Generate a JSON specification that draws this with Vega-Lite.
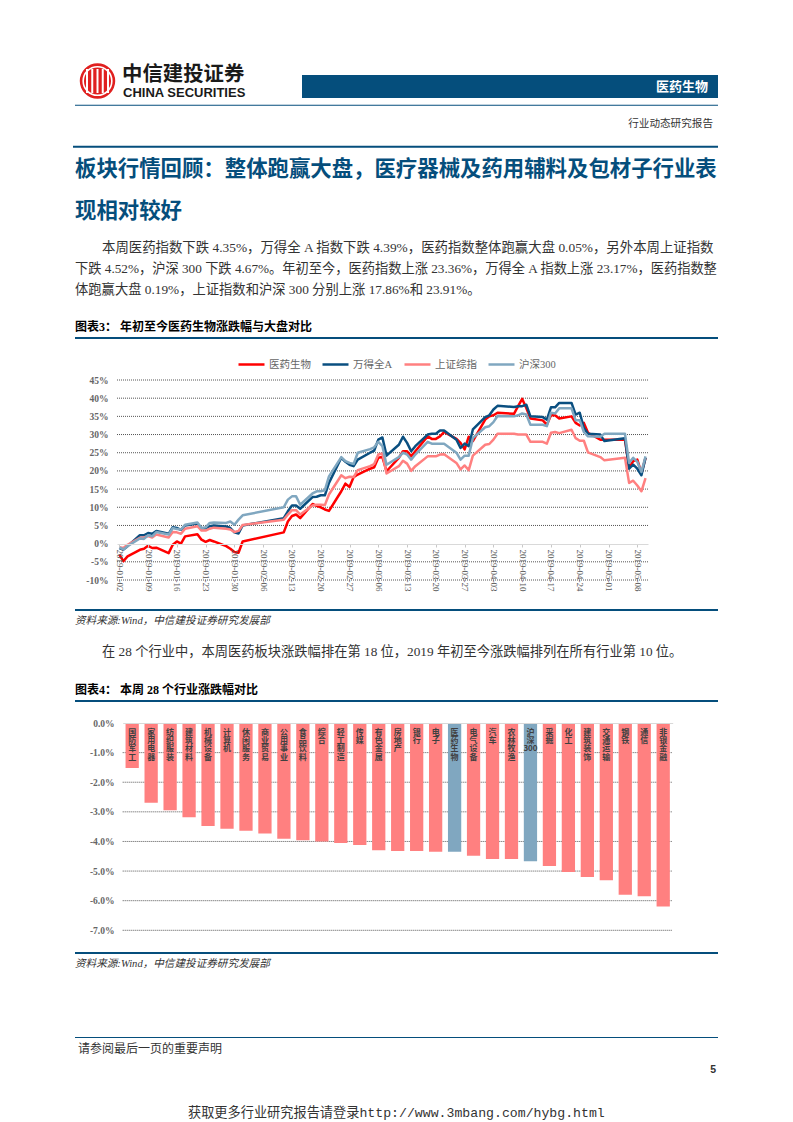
{"$schema":"https://vega.github.io/schema/vega-lite/v6.json","padding":0,"spacing":0,"bounds":"flush","background":"white","config":{"view":{"stroke":null},"axis":{"labelFont":"Liberation Serif"}},"vconcat":[
{"width":793,"height":380,"layer":[
{"data":{"values":[{"n":"logo"}]},"mark":{"type":"point","filled":true,"size":1257,"color":"#E0201F","opacity":1},"encoding":{"x":{"value":97.5},"y":{"value":81}}},
{"data":{"values":[{"n":"logo"}]},"mark":{"type":"point","filled":false,"size":820,"color":"#ffffff","strokeWidth":1.6,"opacity":1},"encoding":{"x":{"value":97.5},"y":{"value":81}}},
{"data":{"values":[{"b":0},{"b":1},{"b":2},{"b":3},{"b":4}]},"mark":{"type":"rule","color":"#ffffff","strokeWidth":2},"encoding":{"x":{"field":"b","type":"quantitative","axis":null,"scale":{"domain":[0,4],"range":[87,108]}},"y":{"value":69},"y2":{"value":93}}},
{"data":{"values":[{"t":"中信建投证券"}]},"mark":{"type":"text","align":"left","baseline":"middle","font":"Noto Sans CJK SC","fontWeight":"bold","fontSize":20.4,"color":"#1a1a1a"},"encoding":{"x":{"value":122},"y":{"value":75},"text":{"field":"t"}}},
{"data":{"values":[{"t":"CHINA SECURITIES"}]},"mark":{"type":"text","align":"left","baseline":"middle","font":"Liberation Sans","fontWeight":"bold","fontSize":13,"color":"#1a1a1a"},"encoding":{"x":{"value":123},"y":{"value":93},"text":{"field":"t"}}},
{"data":{"values":[{"n":"bar"}]},"mark":{"type":"rect","color":"#054E7C"},"encoding":{"x":{"value":302},"x2":{"value":718},"y":{"value":75},"y2":{"value":98}}},
{"data":{"values":[{"t":"医药生物"}]},"mark":{"type":"text","align":"right","baseline":"middle","font":"Noto Sans CJK SC","fontWeight":"bold","fontSize":13,"color":"#ffffff"},"encoding":{"x":{"value":708},"y":{"value":87},"text":{"field":"t"}}},
{"data":{"values":[{"n":"line"}]},"mark":{"type":"rect","color":"#054E7C"},"encoding":{"x":{"value":75},"x2":{"value":718},"y":{"value":104.7},"y2":{"value":105.7}}},
{"data":{"values":[{"t":"行业动态研究报告"}]},"mark":{"type":"text","align":"right","baseline":"middle","font":"Noto Sans CJK SC","fontSize":10.6,"color":"#333333"},"encoding":{"x":{"value":713},"y":{"value":124},"text":{"field":"t"}}},
{"data":{"values":[{"n":"line"}]},"mark":{"type":"rect","color":"#054E7C"},"encoding":{"x":{"value":73},"x2":{"value":718},"y":{"value":145.7},"y2":{"value":147.7}}},
{"data":{"values":[{"t":"板块行情回顾：整体跑赢大盘，医疗器械及药用辅料及包材子行业表"}]},"mark":{"type":"text","align":"left","baseline":"middle","font":"Noto Sans CJK SC","fontWeight":"bold","fontSize":21.4,"color":"#054E7C"},"encoding":{"x":{"value":75},"y":{"value":170},"text":{"field":"t"}}},
{"data":{"values":[{"t":"现相对较好"}]},"mark":{"type":"text","align":"left","baseline":"middle","font":"Noto Sans CJK SC","fontWeight":"bold","fontSize":21.4,"color":"#054E7C"},"encoding":{"x":{"value":75},"y":{"value":212},"text":{"field":"t"}}},
{"data":{"values":[{"t":"本周医药指数下跌 4.35%，万得全 A 指数下跌 4.39%，医药指数整体跑赢大盘 0.05%，另外本周上证指数"}]},"mark":{"type":"text","align":"left","baseline":"middle","font":"Liberation Serif, Noto Sans CJK SC","fontSize":13.4,"color":"#333333"},"encoding":{"x":{"value":102},"y":{"value":248},"text":{"field":"t"}}},
{"data":{"values":[{"t":"下跌 4.52%，沪深 300 下跌 4.67%。年初至今，医药指数上涨 23.36%，万得全 A 指数上涨 23.17%，医药指数整"}]},"mark":{"type":"text","align":"left","baseline":"middle","font":"Liberation Serif, Noto Sans CJK SC","fontSize":13.24,"color":"#333333"},"encoding":{"x":{"value":75},"y":{"value":269},"text":{"field":"t"}}},
{"data":{"values":[{"t":"体跑赢大盘 0.19%，上证指数和沪深 300 分别上涨 17.86%和 23.91%。"}]},"mark":{"type":"text","align":"left","baseline":"middle","font":"Liberation Serif, Noto Sans CJK SC","fontSize":13.3,"color":"#333333"},"encoding":{"x":{"value":75},"y":{"value":290},"text":{"field":"t"}}},
{"data":{"values":[{"t":"图表3：  年初至今医药生物涨跌幅与大盘对比"}]},"mark":{"type":"text","align":"left","baseline":"middle","font":"Liberation Serif, Noto Sans CJK SC","fontWeight":"bold","fontSize":12,"color":"#000000"},"encoding":{"x":{"value":75},"y":{"value":327},"text":{"field":"t"}}},
{"data":{"values":[{"n":"line"}]},"mark":{"type":"rect","color":"#054E7C"},"encoding":{"x":{"value":75},"x2":{"value":718},"y":{"value":337},"y2":{"value":339}}}
]},
{"width":793,"height":200,"resolve":{"scale":{"x":"independent"}},"layer":[
{"data":{"values":[{"g":45},{"g":40},{"g":35},{"g":30},{"g":25},{"g":20},{"g":15},{"g":10},{"g":5},{"g":-5},{"g":-10}]},"mark":{"type":"rule","color":"#555555","strokeWidth":1,"strokeDash":[1,1]},"encoding":{"x":{"datum":0,"type":"quantitative","axis":null,"scale":{"domain":[0,1],"range":[117,648]}},"x2":{"datum":1},"y":{"field":"g","type":"quantitative","title":null,"scale":{"domain":[-10,45],"nice":false},"axis":{"orient":"left","offset":-108,"domain":false,"ticks":false,"grid":false,"labelPadding":0,"labelOverlap":false,"labelFlush":false,"values":[45,40,35,30,25,20,15,10,5,0,-5,-10],"labelExpr":"datum.value+'%'","labelFont":"Liberation Serif","labelFontWeight":"bold","labelFontSize":9.5,"labelColor":"#666666"}}}},
{"data":{"values":[
{"d":"2019-01-02","s":"医药生物","v":-3},{"d":"2019-01-03","s":"医药生物","v":-4.8},{"d":"2019-01-04","s":"医药生物","v":-3.5},{"d":"2019-01-07","s":"医药生物","v":-1.7},{"d":"2019-01-08","s":"医药生物","v":-1.4},{"d":"2019-01-09","s":"医药生物","v":-0.6},{"d":"2019-01-10","s":"医药生物","v":-1.2},{"d":"2019-01-11","s":"医药生物","v":-1.1},{"d":"2019-01-14","s":"医药生物","v":-2.6},{"d":"2019-01-15","s":"医药生物","v":-0.3},{"d":"2019-01-16","s":"医药生物","v":0.6},{"d":"2019-01-17","s":"医药生物","v":0},{"d":"2019-01-18","s":"医药生物","v":2},{"d":"2019-01-21","s":"医药生物","v":2.6},{"d":"2019-01-22","s":"医药生物","v":1.1},{"d":"2019-01-23","s":"医药生物","v":0.5},{"d":"2019-01-24","s":"医药生物","v":1},{"d":"2019-01-25","s":"医药生物","v":0.6},{"d":"2019-01-28","s":"医药生物","v":-0.7},{"d":"2019-01-29","s":"医药生物","v":-1.4},{"d":"2019-01-30","s":"医药生物","v":-2.3},{"d":"2019-01-31","s":"医药生物","v":-2.5},{"d":"2019-02-01","s":"医药生物","v":0.6},{"d":"2019-02-11","s":"医药生物","v":3.1},{"d":"2019-02-12","s":"医药生物","v":6.1},{"d":"2019-02-13","s":"医药生物","v":7.6},{"d":"2019-02-14","s":"医药生物","v":8},{"d":"2019-02-15","s":"医药生物","v":7},{"d":"2019-02-18","s":"医药生物","v":10.9},{"d":"2019-02-19","s":"医药生物","v":10.4},{"d":"2019-02-20","s":"医药生物","v":10},{"d":"2019-02-21","s":"医药生物","v":9.4},{"d":"2019-02-22","s":"医药生物","v":9},{"d":"2019-02-25","s":"医药生物","v":14.4},{"d":"2019-02-26","s":"医药生物","v":16.5},{"d":"2019-02-27","s":"医药生物","v":15.6},{"d":"2019-02-28","s":"医药生物","v":18.3},{"d":"2019-03-01","s":"医药生物","v":19},{"d":"2019-03-04","s":"医药生物","v":20.6},{"d":"2019-03-05","s":"医药生物","v":21},{"d":"2019-03-06","s":"医药生物","v":23.6},{"d":"2019-03-07","s":"医药生物","v":23.8},{"d":"2019-03-08","s":"医药生物","v":19.9},{"d":"2019-03-11","s":"医药生物","v":23.6},{"d":"2019-03-12","s":"医药生物","v":25.4},{"d":"2019-03-13","s":"医药生物","v":25.4},{"d":"2019-03-14","s":"医药生物","v":24},{"d":"2019-03-15","s":"医药生物","v":25.4},{"d":"2019-03-18","s":"医药生物","v":29.5},{"d":"2019-03-19","s":"医药生物","v":28.8},{"d":"2019-03-20","s":"医药生物","v":28.8},{"d":"2019-03-21","s":"医药生物","v":29.5},{"d":"2019-03-22","s":"医药生物","v":30.7},{"d":"2019-03-25","s":"医药生物","v":28.8},{"d":"2019-03-26","s":"医药生物","v":27.7},{"d":"2019-03-27","s":"医药生物","v":25.9},{"d":"2019-03-28","s":"医药生物","v":29.4},{"d":"2019-03-29","s":"医药生物","v":28.2},{"d":"2019-04-01","s":"医药生物","v":34.1},{"d":"2019-04-02","s":"医药生物","v":35},{"d":"2019-04-03","s":"医药生物","v":35.3},{"d":"2019-04-04","s":"医药生物","v":36},{"d":"2019-04-08","s":"医药生物","v":35.7},{"d":"2019-04-09","s":"医药生物","v":37.8},{"d":"2019-04-10","s":"医药生物","v":39.8},{"d":"2019-04-11","s":"医药生物","v":37.3},{"d":"2019-04-12","s":"医药生物","v":34.4},{"d":"2019-04-15","s":"医药生物","v":33.9},{"d":"2019-04-16","s":"医药生物","v":32.7},{"d":"2019-04-17","s":"医药生物","v":35.3},{"d":"2019-04-18","s":"医药生物","v":35.3},{"d":"2019-04-19","s":"医药生物","v":34.4},{"d":"2019-04-22","s":"医药生物","v":35},{"d":"2019-04-23","s":"医药生物","v":33.2},{"d":"2019-04-24","s":"医药生物","v":32.5},{"d":"2019-04-25","s":"医药生物","v":33.2},{"d":"2019-04-26","s":"医药生物","v":30.5},{"d":"2019-04-29","s":"医药生物","v":28.6},{"d":"2019-04-30","s":"医药生物","v":28.6},{"d":"2019-05-05","s":"医药生物","v":28.6},{"d":"2019-05-06","s":"医药生物","v":20.8},{"d":"2019-05-07","s":"医药生物","v":22.7},{"d":"2019-05-08","s":"医药生物","v":23.1},{"d":"2019-05-09","s":"医药生物","v":19.4},{"d":"2019-05-10","s":"医药生物","v":23.6},
{"d":"2019-01-02","s":"万得全A","v":-1.2},{"d":"2019-01-03","s":"万得全A","v":-1.6},{"d":"2019-01-04","s":"万得全A","v":-0.7},{"d":"2019-01-07","s":"万得全A","v":2.3},{"d":"2019-01-08","s":"万得全A","v":2.3},{"d":"2019-01-09","s":"万得全A","v":2.9},{"d":"2019-01-10","s":"万得全A","v":2.7},{"d":"2019-01-11","s":"万得全A","v":3.5},{"d":"2019-01-14","s":"万得全A","v":2.7},{"d":"2019-01-15","s":"万得全A","v":4.5},{"d":"2019-01-16","s":"万得全A","v":4.3},{"d":"2019-01-17","s":"万得全A","v":3.8},{"d":"2019-01-18","s":"万得全A","v":5},{"d":"2019-01-21","s":"万得全A","v":5.5},{"d":"2019-01-22","s":"万得全A","v":4.2},{"d":"2019-01-23","s":"万得全A","v":4.2},{"d":"2019-01-24","s":"万得全A","v":4.8},{"d":"2019-01-25","s":"万得全A","v":5},{"d":"2019-01-28","s":"万得全A","v":4.7},{"d":"2019-01-29","s":"万得全A","v":4.3},{"d":"2019-01-30","s":"万得全A","v":3.1},{"d":"2019-01-31","s":"万得全A","v":2.8},{"d":"2019-02-01","s":"万得全A","v":5},{"d":"2019-02-11","s":"万得全A","v":7},{"d":"2019-02-12","s":"万得全A","v":8.9},{"d":"2019-02-13","s":"万得全A","v":10.5},{"d":"2019-02-14","s":"万得全A","v":10.5},{"d":"2019-02-15","s":"万得全A","v":9.6},{"d":"2019-02-18","s":"万得全A","v":12.8},{"d":"2019-02-19","s":"万得全A","v":12.9},{"d":"2019-02-20","s":"万得全A","v":13.3},{"d":"2019-02-21","s":"万得全A","v":13.3},{"d":"2019-02-22","s":"万得全A","v":16.7},{"d":"2019-02-25","s":"万得全A","v":23.6},{"d":"2019-02-26","s":"万得全A","v":22.5},{"d":"2019-02-27","s":"万得全A","v":21.7},{"d":"2019-02-28","s":"万得全A","v":21.3},{"d":"2019-03-01","s":"万得全A","v":23.1},{"d":"2019-03-04","s":"万得全A","v":25},{"d":"2019-03-05","s":"万得全A","v":25.6},{"d":"2019-03-06","s":"万得全A","v":28.6},{"d":"2019-03-07","s":"万得全A","v":29.2},{"d":"2019-03-08","s":"万得全A","v":24.2},{"d":"2019-03-11","s":"万得全A","v":27.2},{"d":"2019-03-12","s":"万得全A","v":29.4},{"d":"2019-03-13","s":"万得全A","v":27.7},{"d":"2019-03-14","s":"万得全A","v":25.4},{"d":"2019-03-15","s":"万得全A","v":26.8},{"d":"2019-03-18","s":"万得全A","v":30},{"d":"2019-03-19","s":"万得全A","v":30.2},{"d":"2019-03-20","s":"万得全A","v":30.2},{"d":"2019-03-21","s":"万得全A","v":31.1},{"d":"2019-03-22","s":"万得全A","v":31.1},{"d":"2019-03-25","s":"万得全A","v":28.6},{"d":"2019-03-26","s":"万得全A","v":26.3},{"d":"2019-03-27","s":"万得全A","v":27.5},{"d":"2019-03-28","s":"万得全A","v":26.8},{"d":"2019-03-29","s":"万得全A","v":31.4},{"d":"2019-04-01","s":"万得全A","v":34.8},{"d":"2019-04-02","s":"万得全A","v":35.3},{"d":"2019-04-03","s":"万得全A","v":36.9},{"d":"2019-04-04","s":"万得全A","v":37.9},{"d":"2019-04-08","s":"万得全A","v":37.6},{"d":"2019-04-09","s":"万得全A","v":37.8},{"d":"2019-04-10","s":"万得全A","v":37.8},{"d":"2019-04-11","s":"万得全A","v":38.2},{"d":"2019-04-12","s":"万得全A","v":35},{"d":"2019-04-15","s":"万得全A","v":34.8},{"d":"2019-04-16","s":"万得全A","v":34.1},{"d":"2019-04-17","s":"万得全A","v":37.5},{"d":"2019-04-18","s":"万得全A","v":37.5},{"d":"2019-04-19","s":"万得全A","v":38.7},{"d":"2019-04-22","s":"万得全A","v":38.7},{"d":"2019-04-23","s":"万得全A","v":35.5},{"d":"2019-04-24","s":"万得全A","v":36},{"d":"2019-04-25","s":"万得全A","v":31.8},{"d":"2019-04-26","s":"万得全A","v":30.2},{"d":"2019-04-29","s":"万得全A","v":30},{"d":"2019-04-30","s":"万得全A","v":28.2},{"d":"2019-05-05","s":"万得全A","v":29},{"d":"2019-05-06","s":"万得全A","v":20.6},{"d":"2019-05-07","s":"万得全A","v":21.7},{"d":"2019-05-08","s":"万得全A","v":20.6},{"d":"2019-05-09","s":"万得全A","v":18.8},{"d":"2019-05-10","s":"万得全A","v":23.6},
{"d":"2019-01-02","s":"上证综指","v":-1},{"d":"2019-01-03","s":"上证综指","v":-1.2},{"d":"2019-01-04","s":"上证综指","v":-0.3},{"d":"2019-01-07","s":"上证综指","v":1.6},{"d":"2019-01-08","s":"上证综指","v":1.7},{"d":"2019-01-09","s":"上证综指","v":2.1},{"d":"2019-01-10","s":"上证综指","v":1.7},{"d":"2019-01-11","s":"上证综指","v":2.5},{"d":"2019-01-14","s":"上证综指","v":1.7},{"d":"2019-01-15","s":"上证综指","v":3.2},{"d":"2019-01-16","s":"上证综指","v":3.1},{"d":"2019-01-17","s":"上证综指","v":2.7},{"d":"2019-01-18","s":"上证综指","v":4.1},{"d":"2019-01-21","s":"上证综指","v":4.8},{"d":"2019-01-22","s":"上证综指","v":3.6},{"d":"2019-01-23","s":"上证综指","v":3.6},{"d":"2019-01-24","s":"上证综指","v":4.1},{"d":"2019-01-25","s":"上证综指","v":4.4},{"d":"2019-01-28","s":"上证综指","v":4.1},{"d":"2019-01-29","s":"上证综指","v":3.9},{"d":"2019-01-30","s":"上证综指","v":3.2},{"d":"2019-01-31","s":"上证综指","v":3.5},{"d":"2019-02-01","s":"上证综指","v":5.1},{"d":"2019-02-11","s":"上证综指","v":6.6},{"d":"2019-02-12","s":"上证综指","v":8},{"d":"2019-02-13","s":"上证综指","v":9.2},{"d":"2019-02-14","s":"上证综指","v":9.2},{"d":"2019-02-15","s":"上证综指","v":8},{"d":"2019-02-18","s":"上证综指","v":10.5},{"d":"2019-02-19","s":"上证综指","v":10.7},{"d":"2019-02-20","s":"上证综指","v":10.7},{"d":"2019-02-21","s":"上证综指","v":10.6},{"d":"2019-02-22","s":"上证综指","v":13.5},{"d":"2019-02-25","s":"上证综指","v":18.8},{"d":"2019-02-26","s":"上证综指","v":18},{"d":"2019-02-27","s":"上证综指","v":18.4},{"d":"2019-02-28","s":"上证综指","v":18.3},{"d":"2019-03-01","s":"上证综指","v":20.2},{"d":"2019-03-04","s":"上证综指","v":21.3},{"d":"2019-03-05","s":"上证综指","v":21.9},{"d":"2019-03-06","s":"上证综指","v":24.5},{"d":"2019-03-07","s":"上证综指","v":24.8},{"d":"2019-03-08","s":"上证综指","v":19.3},{"d":"2019-03-11","s":"上证综指","v":21.3},{"d":"2019-03-12","s":"上证综指","v":22.8},{"d":"2019-03-13","s":"上证综指","v":22},{"d":"2019-03-14","s":"上证综指","v":20},{"d":"2019-03-15","s":"上证综指","v":21.3},{"d":"2019-03-18","s":"上证综指","v":24},{"d":"2019-03-19","s":"上证综指","v":24},{"d":"2019-03-20","s":"上证综指","v":24},{"d":"2019-03-21","s":"上证综指","v":24.5},{"d":"2019-03-22","s":"上证综指","v":24.6},{"d":"2019-03-25","s":"上证综指","v":22.2},{"d":"2019-03-26","s":"上证综指","v":20.4},{"d":"2019-03-27","s":"上证综指","v":21.5},{"d":"2019-03-28","s":"上证综指","v":20.2},{"d":"2019-03-29","s":"上证综指","v":24.2},{"d":"2019-04-01","s":"上证综指","v":27.2},{"d":"2019-04-02","s":"上证综指","v":27.4},{"d":"2019-04-03","s":"上证综指","v":28.6},{"d":"2019-04-04","s":"上证综指","v":30.2},{"d":"2019-04-08","s":"上证综指","v":30.2},{"d":"2019-04-09","s":"上证综指","v":30},{"d":"2019-04-10","s":"上证综指","v":30},{"d":"2019-04-11","s":"上证综指","v":30},{"d":"2019-04-12","s":"上证综指","v":28},{"d":"2019-04-15","s":"上证综指","v":28},{"d":"2019-04-16","s":"上证综指","v":27.5},{"d":"2019-04-17","s":"上证综指","v":30.5},{"d":"2019-04-18","s":"上证综指","v":30.7},{"d":"2019-04-19","s":"上证综指","v":30.4},{"d":"2019-04-22","s":"上证综指","v":31.3},{"d":"2019-04-23","s":"上证综指","v":29},{"d":"2019-04-24","s":"上证综指","v":28.3},{"d":"2019-04-25","s":"上证综指","v":28.3},{"d":"2019-04-26","s":"上证综指","v":25.1},{"d":"2019-04-29","s":"上证综指","v":23.8},{"d":"2019-04-30","s":"上证综指","v":22.9},{"d":"2019-05-05","s":"上证综指","v":23.6},{"d":"2019-05-06","s":"上证综指","v":16.7},{"d":"2019-05-07","s":"上证综指","v":17.3},{"d":"2019-05-08","s":"上证综指","v":16},{"d":"2019-05-09","s":"上证综指","v":14.4},{"d":"2019-05-10","s":"上证综指","v":18},
{"d":"2019-01-02","s":"沪深300","v":-1},{"d":"2019-01-03","s":"沪深300","v":-1.6},{"d":"2019-01-04","s":"沪深300","v":-0.7},{"d":"2019-01-07","s":"沪深300","v":1.4},{"d":"2019-01-08","s":"沪深300","v":1.3},{"d":"2019-01-09","s":"沪深300","v":2.3},{"d":"2019-01-10","s":"沪深300","v":2},{"d":"2019-01-11","s":"沪深300","v":3.2},{"d":"2019-01-14","s":"沪深300","v":2.5},{"d":"2019-01-15","s":"沪深300","v":4.3},{"d":"2019-01-16","s":"沪深300","v":4},{"d":"2019-01-17","s":"沪深300","v":3.9},{"d":"2019-01-18","s":"沪深300","v":5.2},{"d":"2019-01-21","s":"沪深300","v":5.8},{"d":"2019-01-22","s":"沪深300","v":4.3},{"d":"2019-01-23","s":"沪深300","v":4.5},{"d":"2019-01-24","s":"沪深300","v":5.7},{"d":"2019-01-25","s":"沪深300","v":5.8},{"d":"2019-01-28","s":"沪深300","v":5.7},{"d":"2019-01-29","s":"沪深300","v":6.1},{"d":"2019-01-30","s":"沪深300","v":5.2},{"d":"2019-01-31","s":"沪深300","v":6.6},{"d":"2019-02-01","s":"沪深300","v":7.8},{"d":"2019-02-11","s":"沪深300","v":10},{"d":"2019-02-12","s":"沪深300","v":12.1},{"d":"2019-02-13","s":"沪深300","v":13},{"d":"2019-02-14","s":"沪深300","v":13},{"d":"2019-02-15","s":"沪深300","v":10.7},{"d":"2019-02-18","s":"沪深300","v":13.8},{"d":"2019-02-19","s":"沪深300","v":14.4},{"d":"2019-02-20","s":"沪深300","v":14.4},{"d":"2019-02-21","s":"沪深300","v":14.7},{"d":"2019-02-22","s":"沪深300","v":18.5},{"d":"2019-02-25","s":"沪深300","v":23.8},{"d":"2019-02-26","s":"沪深300","v":22.7},{"d":"2019-02-27","s":"沪深300","v":22.2},{"d":"2019-02-28","s":"沪深300","v":21.9},{"d":"2019-03-01","s":"沪深300","v":25},{"d":"2019-03-04","s":"沪深300","v":26},{"d":"2019-03-05","s":"沪深300","v":26.5},{"d":"2019-03-06","s":"沪深300","v":28},{"d":"2019-03-07","s":"沪深300","v":26.8},{"d":"2019-03-08","s":"沪深300","v":21.7},{"d":"2019-03-11","s":"沪深300","v":23.8},{"d":"2019-03-12","s":"沪深300","v":25},{"d":"2019-03-13","s":"沪深300","v":24.5},{"d":"2019-03-14","s":"沪深300","v":23.1},{"d":"2019-03-15","s":"沪深300","v":24.5},{"d":"2019-03-18","s":"沪深300","v":28},{"d":"2019-03-19","s":"沪深300","v":27.5},{"d":"2019-03-20","s":"沪深300","v":27.5},{"d":"2019-03-21","s":"沪深300","v":27.5},{"d":"2019-03-22","s":"沪深300","v":27.5},{"d":"2019-03-25","s":"沪深300","v":25},{"d":"2019-03-26","s":"沪深300","v":23.1},{"d":"2019-03-27","s":"沪深300","v":24.2},{"d":"2019-03-28","s":"沪深300","v":24.2},{"d":"2019-03-29","s":"沪深300","v":29},{"d":"2019-04-01","s":"沪深300","v":32},{"d":"2019-04-02","s":"沪深300","v":32.3},{"d":"2019-04-03","s":"沪深300","v":33.4},{"d":"2019-04-04","s":"沪深300","v":35.1},{"d":"2019-04-08","s":"沪深300","v":35},{"d":"2019-04-09","s":"沪深300","v":35.3},{"d":"2019-04-10","s":"沪深300","v":35.8},{"d":"2019-04-11","s":"沪深300","v":35.5},{"d":"2019-04-12","s":"沪深300","v":32.7},{"d":"2019-04-15","s":"沪深300","v":32.7},{"d":"2019-04-16","s":"沪深300","v":32.3},{"d":"2019-04-17","s":"沪深300","v":36},{"d":"2019-04-18","s":"沪深300","v":35.8},{"d":"2019-04-19","s":"沪深300","v":37.2},{"d":"2019-04-22","s":"沪深300","v":37.2},{"d":"2019-04-23","s":"沪深300","v":33.9},{"d":"2019-04-24","s":"沪深300","v":33.9},{"d":"2019-04-25","s":"沪深300","v":30.7},{"d":"2019-04-26","s":"沪深300","v":29.5},{"d":"2019-04-29","s":"沪深300","v":29.4},{"d":"2019-04-30","s":"沪深300","v":30.2},{"d":"2019-05-05","s":"沪深300","v":30.2},{"d":"2019-05-06","s":"沪深300","v":22.2},{"d":"2019-05-07","s":"沪深300","v":23.6},{"d":"2019-05-08","s":"沪深300","v":22.5},{"d":"2019-05-09","s":"沪深300","v":19.7},{"d":"2019-05-10","s":"沪深300","v":24}
]},"mark":{"type":"line","strokeWidth":2.5,"strokeJoin":"round"},"encoding":{"x":{"field":"d","type":"temporal","title":null,"scale":{"type":"utc","domain":["2019-01-01T10:33:00Z","2019-05-10T14:24:00Z"],"range":[117,648]},"axis":{"orient":"bottom","offset":-36,"zindex":1,"grid":false,"values":["2019-01-02","2019-01-09","2019-01-16","2019-01-23","2019-01-30","2019-02-06","2019-02-13","2019-02-20","2019-02-27","2019-03-06","2019-03-13","2019-03-20","2019-03-27","2019-04-03","2019-04-10","2019-04-17","2019-04-24","2019-05-01","2019-05-08"],"labelExpr":"utcFormat(datum.value,'%Y-%m-%d')","labelAngle":90,"labelAlign":"left","labelBaseline":"middle","labelFont":"Liberation Serif","labelFontSize":9,"labelColor":"#555555","labelPadding":2,"labelOverlap":false,"labelFlush":false,"domainColor":"#d9d9d9","domainWidth":1,"tickColor":"#c8c8c8","tickSize":3}},"y":{"field":"v","type":"quantitative","title":null,"axis":{"orient":"left","offset":-108,"domain":false,"ticks":false,"grid":false,"labelPadding":0,"labelOverlap":false,"labelFlush":false,"values":[45,40,35,30,25,20,15,10,5,0,-5,-10],"labelExpr":"datum.value+'%'","labelFont":"Liberation Serif","labelFontWeight":"bold","labelFontSize":9.5,"labelColor":"#666666"}},"color":{"field":"s","type":"nominal","sort":null,"scale":{"domain":["医药生物","万得全A","上证综指","沪深300"],"range":["#FF0000","#0A4F80","#FF8080","#80A7C0"]},"legend":{"orient":"none","legendX":237,"legendY":350,"direction":"horizontal","columns":4,"title":null,"symbolType":"stroke","symbolSize":676,"symbolStrokeWidth":2.5,"labelFont":"Liberation Serif, Noto Sans CJK SC","labelFontSize":10.5,"labelColor":"#666666","labelOffset":3,"columnPadding":6}}}}
]},
{"width":793,"height":142.7,"layer":[
{"data":{"values":[{"n":"line"}]},"mark":{"type":"rect","color":"#054E7C"},"encoding":{"x":{"value":75},"x2":{"value":718},"y":{"value":29},"y2":{"value":31}}},
{"data":{"values":[{"t":"资料来源:Wind，中信建投证券研究发展部"}]},"mark":{"type":"text","align":"left","baseline":"middle","font":"Liberation Serif, Noto Sans CJK SC","fontStyle":"italic","fontSize":10.6,"color":"#333333"},"encoding":{"x":{"value":75},"y":{"value":41},"text":{"field":"t"}}},
{"data":{"values":[{"t":"在 28 个行业中，本周医药板块涨跌幅排在第 18 位，2019 年初至今涨跌幅排列在所有行业第 10 位。"}]},"mark":{"type":"text","align":"left","baseline":"middle","font":"Liberation Serif, Noto Sans CJK SC","fontSize":13.27,"color":"#333333"},"encoding":{"x":{"value":102},"y":{"value":72},"text":{"field":"t"}}},
{"data":{"values":[{"t":"图表4：  本周 28 个行业涨跌幅对比"}]},"mark":{"type":"text","align":"left","baseline":"middle","font":"Liberation Serif, Noto Sans CJK SC","fontWeight":"bold","fontSize":12,"color":"#000000"},"encoding":{"x":{"value":75},"y":{"value":110},"text":{"field":"t"}}},
{"data":{"values":[{"n":"line"}]},"mark":{"type":"rect","color":"#054E7C"},"encoding":{"x":{"value":75},"x2":{"value":718},"y":{"value":120},"y2":{"value":122}}}
]},
{"width":793,"height":207.3,"resolve":{"scale":{"x":"independent"}},"layer":[
{"data":{"values":[{"g":-1},{"g":-2},{"g":-3},{"g":-4},{"g":-5},{"g":-6},{"g":-7}]},"mark":{"type":"rule","color":"#555555","strokeWidth":1,"strokeDash":[1,1]},"encoding":{"x":{"datum":0,"type":"quantitative","axis":null,"scale":{"domain":[0,1],"range":[122.7,672.7]}},"x2":{"datum":1},"y":{"field":"g","type":"quantitative","title":null,"scale":{"domain":[-7,0],"nice":false},"axis":{"orient":"left","offset":-114,"domain":false,"ticks":false,"grid":false,"labelPadding":0,"labelOverlap":false,"labelFlush":false,"values":[0,-1,-2,-3,-4,-5,-6,-7],"labelExpr":"(datum.value<0?'-':'')+format(abs(datum.value),'.1f')+'%'","labelFont":"Liberation Serif","labelFontWeight":"bold","labelFontSize":9.5,"labelColor":"#666666"}}}},
{"data":{"values":[{"n":"国防军工","v":-1.52},{"n":"家用电器","v":-2.69},{"n":"纺织服装","v":-2.95},{"n":"建筑材料","v":-3.18},{"n":"机械设备","v":-3.48},{"n":"计算机","v":-3.57},{"n":"休闲服务","v":-3.64},{"n":"商业贸易","v":-3.73},{"n":"公用事业","v":-3.91},{"n":"食品饮料","v":-3.96},{"n":"综合","v":-4.0},{"n":"轻工制造","v":-4.05},{"n":"传媒","v":-4.12},{"n":"有色金属","v":-4.3},{"n":"房地产","v":-4.32},{"n":"银行","v":-4.32},{"n":"电子","v":-4.35},{"n":"医药生物","v":-4.35},{"n":"电气设备","v":-4.48},{"n":"汽车","v":-4.59},{"n":"农林牧渔","v":-4.59},{"n":"沪深300","v":-4.67},{"n":"采掘","v":-4.83},{"n":"化工","v":-5.03},{"n":"建筑装饰","v":-5.2},{"n":"交通运输","v":-5.31},{"n":"钢铁","v":-5.8},{"n":"通信","v":-5.85},{"n":"非银金融","v":-6.2}]},"mark":{"type":"bar"},"encoding":{"x":{"field":"n","type":"nominal","sort":null,"title":null,"scale":{"range":[122.7,672.7],"paddingInner":0.3,"paddingOuter":0.15},"axis":{"orient":"bottom","offset":-207.3,"zindex":1,"grid":false,"ticks":false,"labelAngle":0,"labelAlign":"center","labelBaseline":"top","labelPadding":5,"labelOverlap":false,"labelLimit":0,"labelFont":"Noto Sans CJK SC","labelFontWeight":"bold","labelFontSize":8,"labelLineHeight":8.4,"labelColor":"#404040","labelExpr":"datum.label=='沪深300'?['沪','深','300']:split(datum.label,'')","domainColor":"#d9d9d9","domainWidth":1}},"y":{"field":"v","type":"quantitative","title":null,"axis":{"orient":"left","offset":-114,"domain":false,"ticks":false,"grid":false,"labelPadding":0,"labelOverlap":false,"labelFlush":false,"values":[0,-1,-2,-3,-4,-5,-6,-7],"labelExpr":"(datum.value<0?'-':'')+format(abs(datum.value),'.1f')+'%'","labelFont":"Liberation Serif","labelFontWeight":"bold","labelFontSize":9.5,"labelColor":"#666666"}},"color":{"condition":{"test":"datum.n==='医药生物'||datum.n==='沪深300'","value":"#80A7C0"},"value":"#FF8080"}}}
]},
{"width":793,"height":192,"layer":[
{"data":{"values":[{"t":"资料来源:Wind，中信建投证券研究发展部"}]},"mark":{"type":"text","align":"left","baseline":"middle","font":"Liberation Serif, Noto Sans CJK SC","fontStyle":"italic","fontSize":10.6,"color":"#333333"},"encoding":{"x":{"value":75},"y":{"value":33},"text":{"field":"t"}}},
{"data":{"values":[{"n":"line"}]},"mark":{"type":"rect","color":"#054E7C"},"encoding":{"x":{"value":75},"x2":{"value":718},"y":{"value":21},"y2":{"value":23}}},
{"data":{"values":[{"n":"line"}]},"mark":{"type":"rect","color":"#054E7C"},"encoding":{"x":{"value":75},"x2":{"value":718},"y":{"value":106},"y2":{"value":107}}},
{"data":{"values":[{"t":"请参阅最后一页的重要声明"}]},"mark":{"type":"text","align":"left","baseline":"middle","font":"Noto Sans CJK SC","fontSize":12,"color":"#333333"},"encoding":{"x":{"value":78},"y":{"value":118},"text":{"field":"t"}}},
{"data":{"values":[{"t":"5"}]},"mark":{"type":"text","align":"right","baseline":"middle","font":"Liberation Sans","fontWeight":"bold","fontSize":10.5,"color":"#333333"},"encoding":{"x":{"value":716},"y":{"value":139},"text":{"field":"t"}}},
{"data":{"values":[{"t":"获取更多行业研究报告请登录http://www.3mbang.com/hybg.html"}]},"mark":{"type":"text","align":"left","baseline":"middle","font":"Liberation Mono, Noto Sans CJK SC","fontSize":13.2,"color":"#333333"},"encoding":{"x":{"value":188},"y":{"value":182},"text":{"field":"t"}}}
]}
]}
